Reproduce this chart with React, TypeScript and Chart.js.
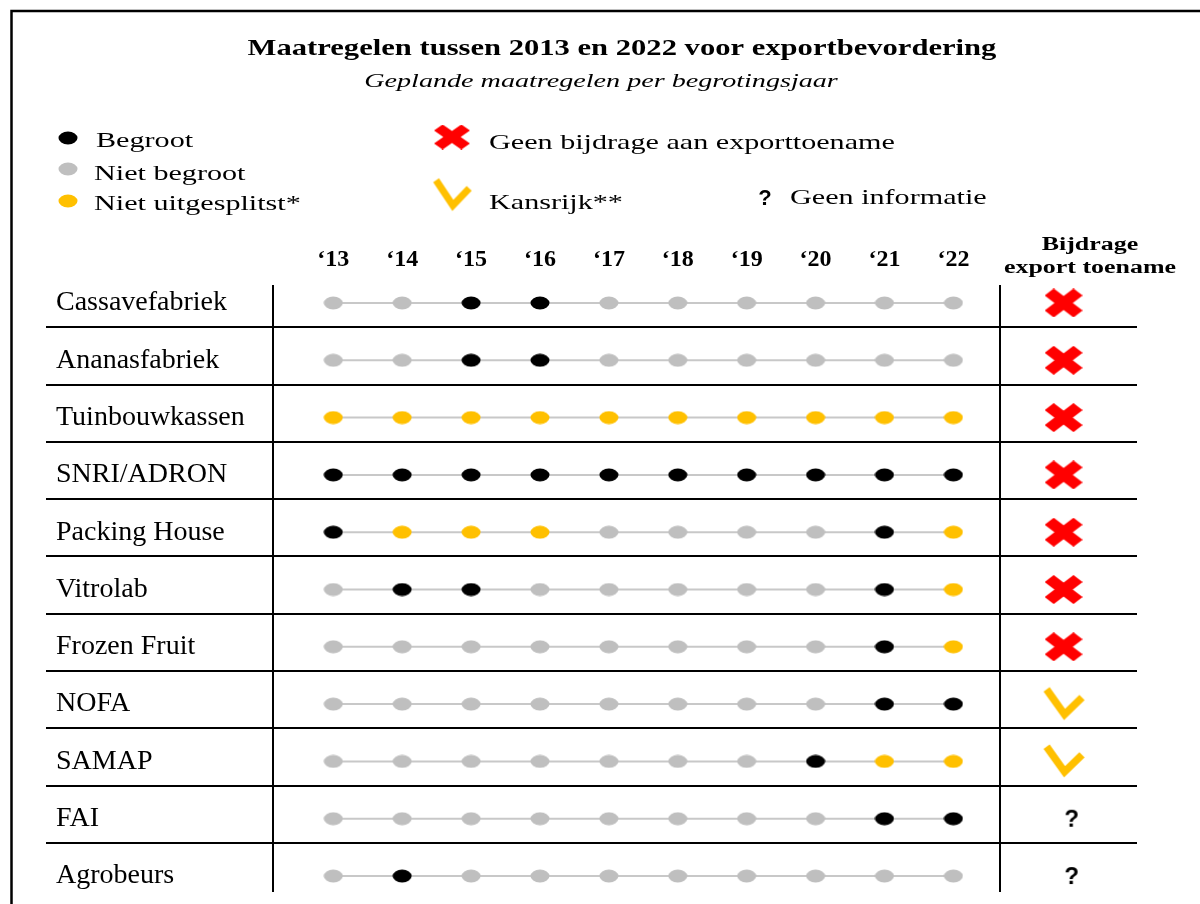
import React, { useEffect, useRef } from "react";
import { Chart, registerables } from "chart.js";

Chart.register(...registerables);

// ---------- data ----------
const TITLE = "Maatregelen tussen 2013 en 2022 voor exportbevordering";
const SUBTITLE = "Geplande maatregelen per begrotingsjaar";
const YEARS = ["13", "14", "15", "16", "17", "18", "19", "20", "21", "22"];
const ROWS = [
  "Cassavefabriek",
  "Ananasfabriek",
  "Tuinbouwkassen",
  "SNRI/ADRON",
  "Packing House",
  "Vitrolab",
  "Frozen Fruit",
  "NOFA",
  "SAMAP",
  "FAI",
  "Agrobeurs",
];
// B = Begroot, N = Niet begroot, U = Niet uitgesplitst*
const STATUS = [
  "NNBBNNNNNN",
  "NNBBNNNNNN",
  "UUUUUUUUUU",
  "BBBBBBBBBB",
  "BUUUNNNNBU",
  "NBBNNNNNBU",
  "NNNNNNNNBU",
  "NNNNNNNNBB",
  "NNNNNNNBUU",
  "NNNNNNNNBB",
  "NBNNNNNNNN",
];
// X = Geen bijdrage, V = Kansrijk, Q = Geen informatie
const CONTRIB = ["X", "X", "X", "X", "X", "X", "X", "V", "V", "Q", "Q"];
const STATUS_LEGEND = [
  ["B", "Begroot"],
  ["N", "Niet begroot"],
  ["U", "Niet uitgesplitst*"],
];
const CONTRIB_LEGEND = [
  ["X", "Geen bijdrage aan exporttoename"],
  ["V", "Kansrijk**"],
  ["Q", "Geen informatie"],
];
const COLUMN_HEADER = ["Bijdrage", "export toename"];

// ---------- style ----------
const COLORS: Record<string, string> = { B: "#000000", N: "#bfbfbf", U: "#ffc000" };
const RED = "#ff0000";
const YELLOW = "#ffc000";
const LINK = "#c8c8c8";
const SERIF = '"Liberation Serif", "Times New Roman", serif';
const SANS = '"Liberation Sans", Arial, sans-serif';

// axis ranges (column / row index units)
const X_MIN = -0.875;
const X_MAX = 11.665;
const CONTRIB_X = 10.6;
const DIVIDER_X = 9.68;
const Y_MIN = -0.314;
const Y_MAX = 10.279;
const SEP_OFFSET = 0.424;

function makeDot(color: string, w = 20, h = 14) {
  const c = document.createElement("canvas");
  c.width = w;
  c.height = h;
  const x = c.getContext("2d")!;
  x.fillStyle = color;
  x.beginPath();
  x.ellipse(w / 2, h / 2, w / 2 - 0.5, h / 2 - 0.5, 0, 0, Math.PI * 2);
  x.fill();
  return c;
}

function makeCross(w: number, h: number) {
  const c = document.createElement("canvas");
  c.width = w;
  c.height = h;
  const x = c.getContext("2d")!;
  x.fillStyle = RED;
  x.translate(w / 2, h / 2);
  x.scale(w / h, 1);
  const t = h * 0.34;
  const L = Math.SQRT2 * h - t;
  for (const a of [Math.PI / 4, -Math.PI / 4]) {
    x.save();
    x.rotate(a);
    x.fillRect(-L / 2, -t / 2, L, t);
    x.restore();
  }
  return c;
}

function makeCheck(w: number, h: number, lw: number) {
  const c = document.createElement("canvas");
  c.width = w;
  c.height = h;
  const x = c.getContext("2d")!;
  x.strokeStyle = YELLOW;
  x.lineWidth = lw;
  x.lineCap = "butt";
  x.lineJoin = "miter";
  x.beginPath();
  x.moveTo(w * 0.13, h * 0.1);
  x.lineTo(w * 0.52, h * 0.78);
  x.lineTo(w * 0.9, h * 0.32);
  x.stroke();
  return c;
}

function makeQuestion(w: number, h: number, dx: number, size: number) {
  const c = document.createElement("canvas");
  c.width = w;
  c.height = h;
  const x = c.getContext("2d")!;
  x.fillStyle = "#000";
  x.font = `bold ${size}px ${SANS}`;
  x.textAlign = "center";
  x.textBaseline = "middle";
  x.fillText("?", w / 2 + dx, h / 2 + 1);
  return c;
}

function drawText(
  ctx: CanvasRenderingContext2D,
  s: string,
  x: number,
  y: number,
  font: string,
  sx: number,
  align: CanvasTextAlign = "left"
) {
  ctx.save();
  ctx.font = font;
  ctx.fillStyle = "#000";
  ctx.textAlign = align;
  ctx.textBaseline = "alphabetic";
  ctx.translate(x, y);
  ctx.scale(sx, 1);
  ctx.fillText(s, 0, 0);
  ctx.restore();
}

export default function App() {
  const ref = useRef<HTMLCanvasElement>(null);

  useEffect(() => {
    document.body.style.margin = "0";
    const dots: Record<string, HTMLCanvasElement> = {
      B: makeDot(COLORS.B),
      N: makeDot(COLORS.N),
      U: makeDot(COLORS.U),
    };
    const icons: Record<string, HTMLCanvasElement> = {
      X: makeCross(38, 29),
      V: makeCheck(46, 37, 7.5),
      Q: makeQuestion(44, 30, 8, 24),
    };
    const legendIcons: Record<string, HTMLCanvasElement> = {
      X: makeCross(36, 25),
      V: makeCheck(43, 37, 7),
      Q: makeQuestion(26, 28, 0, 22),
    };

    const decor = {
      id: "decor",
      beforeDraw(chart: any) {
        const { ctx } = chart;
        ctx.save();
        ctx.fillStyle = "#fff";
        ctx.fillRect(0, 0, chart.width, chart.height);
        ctx.restore();
      },
      beforeDatasetsDraw(chart: any) {
        const { ctx, chartArea, scales } = chart;
        const xs = scales.x;
        const ys = scales.y;
        ctx.save();
        ctx.strokeStyle = "#000";
        ctx.lineWidth = 2;
        for (let r = 0; r < ROWS.length - 1; r++) {
          const yy = Math.round(ys.getPixelForValue(r + SEP_OFFSET));
          ctx.beginPath();
          ctx.moveTo(46, yy);
          ctx.lineTo(chartArea.right, yy);
          ctx.stroke();
        }
        const vx = [chartArea.left, xs.getPixelForValue(DIVIDER_X)];
        for (const v of vx) {
          ctx.beginPath();
          ctx.moveTo(Math.round(v), chartArea.top);
          ctx.lineTo(Math.round(v), chartArea.bottom);
          ctx.stroke();
        }
        ctx.restore();
      },
      afterDraw(chart: any) {
        const { ctx, scales } = chart;
        const xs = scales.x;
        // frame
        ctx.save();
        ctx.strokeStyle = "#000";
        ctx.lineWidth = 2.5;
        ctx.beginPath();
        ctx.moveTo(11.5, chart.height);
        ctx.lineTo(11.5, 11);
        ctx.lineTo(chart.width, 11);
        ctx.stroke();
        ctx.restore();

        // title
        drawText(ctx, TITLE, 622, 55, `bold 23px ${SERIF}`, 1.33, "center");
        drawText(ctx, SUBTITLE, 601, 87, `italic 19px ${SERIF}`, 1.48, "center");

        // legend: status
        const lf = `22px ${SERIF}`;
        const statusPos = [
          [68, 138, 96, 147],
          [68, 169, 94, 180],
          [68, 201, 94, 210],
        ];
        STATUS_LEGEND.forEach(([k, label], i) => {
          const [dx, dy, tx, ty] = statusPos[i];
          const img = dots[k];
          ctx.drawImage(img, dx - img.width / 2, dy - img.height / 2);
          drawText(ctx, label, tx, ty, lf, 1.37);
        });
        // legend: contribution
        const contribPos = [
          [452, 137, 489, 149],
          [452, 195, 489, 209],
          [765, 198, 790, 204],
        ];
        CONTRIB_LEGEND.forEach(([k, label], i) => {
          const [ix, iy, tx, ty] = contribPos[i];
          const img = legendIcons[k];
          ctx.drawImage(img, ix - img.width / 2, iy - img.height / 2);
          drawText(ctx, label, tx, ty, lf, 1.37);
        });

        // contribution column header
        const hx = xs.getPixelForValue((CONTRIB_X + X_MAX) / 2 - 0.15);
        drawText(ctx, COLUMN_HEADER[0], hx, 250, `bold 18px ${SERIF}`, 1.44, "center");
        drawText(ctx, COLUMN_HEADER[1], hx, 273, `bold 18px ${SERIF}`, 1.44, "center");
      },
    };

    const datasets: any[] = ROWS.map((name, r) => ({
      label: name,
      data: YEARS.map((_, i) => ({ x: i, y: r })),
      showLine: true,
      borderColor: LINK,
      borderWidth: 2,
      pointStyle: STATUS[r].split("").map((s) => dots[s]),
      pointRadius: 8,
      pointHoverRadius: 8,
      fill: false,
      tension: 0,
    }));
    datasets.push({
      label: "Bijdrage export toename",
      data: CONTRIB.map((_, r) => ({ x: CONTRIB_X, y: r })),
      showLine: false,
      pointStyle: CONTRIB.map((c) => icons[c]),
      pointRadius: 10,
      pointHoverRadius: 10,
    });

    const chart = new Chart(ref.current!, {
      type: "scatter",
      data: { datasets },
      plugins: [decor],
      options: {
        responsive: false,
        animation: false,
        events: [],
        layout: { padding: { top: 245, left: 56, right: 63, bottom: 12 } },
        plugins: {
          legend: { display: false },
          tooltip: { enabled: false },
          title: { display: false },
        },
        scales: {
          x: {
            type: "linear",
            position: "top",
            min: X_MIN,
            max: X_MAX,
            grid: { display: false, drawTicks: false },
            border: { display: false },
            afterBuildTicks: (s: any) => {
              s.ticks = YEARS.map((_, i) => ({ value: i }));
            },
            afterFit: (s: any) => {
              s.height = 40;
              s.paddingLeft = 0;
              s.paddingRight = 0;
            },
            ticks: {
              autoSkip: false,
              maxRotation: 0,
              minRotation: 0,
              padding: 11,
              color: "#000",
              font: { family: SERIF, size: 24, weight: "bold" },
              callback: (v: any) => "\u2018" + YEARS[v],
            },
          },
          y: {
            type: "linear",
            position: "left",
            reverse: true,
            min: Y_MIN,
            max: Y_MAX,
            grid: { display: false, drawTicks: false },
            border: { display: false },
            afterBuildTicks: (s: any) => {
              s.ticks = ROWS.map((_, i) => ({ value: i }));
            },
            afterFit: (s: any) => {
              s.width = 217;
              s.paddingTop = 0;
              s.paddingBottom = 0;
            },
            ticks: {
              autoSkip: false,
              crossAlign: "far",
              padding: 0,
              color: "#000",
              font: { family: SERIF, size: 28 },
              callback: (v: any) => ROWS[v],
            },
          },
        },
      } as any,
    });
    return () => chart.destroy();
  }, []);

  return (
    <div style={{ position: "absolute", left: 0, top: 0, width: 1200, height: 904 }}>
      <canvas
        ref={ref}
        width={1200}
        height={904}
        style={{ display: "block", width: 1200, height: 904 }}
      />
    </div>
  );
}
